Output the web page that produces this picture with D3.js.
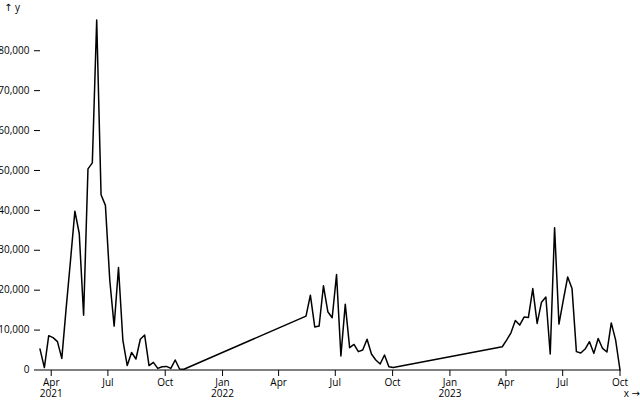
<!DOCTYPE html>
<html>
<head>
<meta charset="utf-8">
<script src="https://cdn.jsdelivr.net/npm/d3@7"></script>
<style>
  body { margin: 0; background: #fff; }
  svg { font-family: "Open Sans", "DejaVu Sans", sans-serif; font-size: 10px; display: block; }
</style>
</head>
<body>
<div id="chart"></div>
<script>
// weekly readings, three runs of data (Sundays)
const segmentStarts = ["2021-03-14", "2022-05-15", "2023-03-26"];
const segmentValues = [
  [5250, 600, 8600, 8100, 7100, 2900, 15500, 27500, 39800, 34200, 13750, 50400,
   51900, 87700, 43900, 41250, 22500, 11000, 25700, 7500, 1100, 4400, 2750, 7700,
   8750, 1100, 1900, 400, 800, 900, 400, 2500, 250, 200],
  [13500, 18750, 10800, 11000, 21100, 14600, 13100, 23900, 3500, 16500, 5600, 6400,
   4600, 5000, 7700, 4000, 2500, 1500, 3750, 800, 650],
  [5830, 7500, 9330, 12400, 11250, 13250, 13170, 20400, 11670, 17000, 18300, 4000,
   35670, 11500, 17500, 23300, 20400, 4600, 4250, 5250, 7100, 4170, 7900, 5400,
   4500, 11800, 7500, 0]
];
const yTicks = [0, 10000, 20000, 30000, 40000, 50000, 60000, 70000, 80000];

const data = [];
segmentStarts.forEach((s, k) => {
  const start = d3.utcParse("%Y-%m-%d")(s);
  segmentValues[k].forEach((v, i) => {
    data.push({ x: d3.utcDay.offset(start, 7 * i), y: v });
  });
});

const width = 640, height = 400;
const margin = { top: 20, right: 20, bottom: 30, left: 40 };

const x = d3.scaleUtc()
  .domain(d3.extent(data, d => d.x))
  .range([margin.left, width - margin.right]);
const y = d3.scaleLinear()
  .domain([0, d3.max(data, d => d.y)])
  .range([height - margin.bottom, margin.top]);

const svg = d3.select("#chart").append("svg")
  .attr("width", width)
  .attr("height", height)
  .attr("viewBox", [0, 0, width, height]);

// y axis
const yAxis = svg.append("g").attr("transform", `translate(${margin.left},0)`);
yAxis.selectAll("line").data(yTicks).join("line")
  .attr("x1", -6).attr("x2", 0)
  .attr("y1", d => y(d)).attr("y2", d => y(d))
  .attr("stroke", "currentColor");
yAxis.selectAll("text").data(yTicks).join("text")
  .attr("x", -10.5).attr("y", d => y(d))
  .attr("dy", "0.32em")
  .attr("text-anchor", "end")
  .attr("fill", "currentColor")
  .text(d3.format(","));
svg.append("text")
  .attr("x", 4).attr("y", 11)
  .attr("fill", "currentColor")
  .text("↑ y");

// x axis
const xTicks = x.ticks(d3.utcMonth.every(3));
const xAxis = svg.append("g").attr("transform", `translate(0,${height - margin.bottom})`);
xAxis.selectAll("line").data(xTicks).join("line")
  .attr("x1", d => x(d)).attr("x2", d => x(d))
  .attr("y1", 0).attr("y2", 6)
  .attr("stroke", "currentColor");
xAxis.selectAll("text.month").data(xTicks).join("text")
  .attr("class", "month")
  .attr("x", d => x(d)).attr("y", 9)
  .attr("dy", "0.71em")
  .attr("text-anchor", "middle")
  .attr("fill", "currentColor")
  .text(d3.utcFormat("%b"));
xAxis.selectAll("text.year")
  .data(xTicks.filter((d, i) => i === 0 || d.getUTCMonth() === 0))
  .join("text")
  .attr("class", "year")
  .attr("x", d => x(d)).attr("y", 20)
  .attr("dy", "0.71em")
  .attr("text-anchor", "middle")
  .attr("fill", "currentColor")
  .text(d3.utcFormat("%Y"));
svg.append("text")
  .attr("x", width).attr("y", height - 3)
  .attr("text-anchor", "end")
  .attr("fill", "currentColor")
  .text("x →");

// baseline
svg.append("line")
  .attr("x1", margin.left).attr("x2", width - margin.right)
  .attr("y1", y(0)).attr("y2", y(0))
  .attr("stroke", "currentColor");

// series
const line = d3.line().x(d => x(d.x)).y(d => y(d.y));
svg.append("path")
  .datum(data)
  .attr("fill", "none")
  .attr("stroke", "currentColor")
  .attr("stroke-width", 1.5)
  .attr("stroke-linejoin", "round")
  .attr("stroke-linecap", "round")
  .attr("d", line);
</script>
</body>
</html>
